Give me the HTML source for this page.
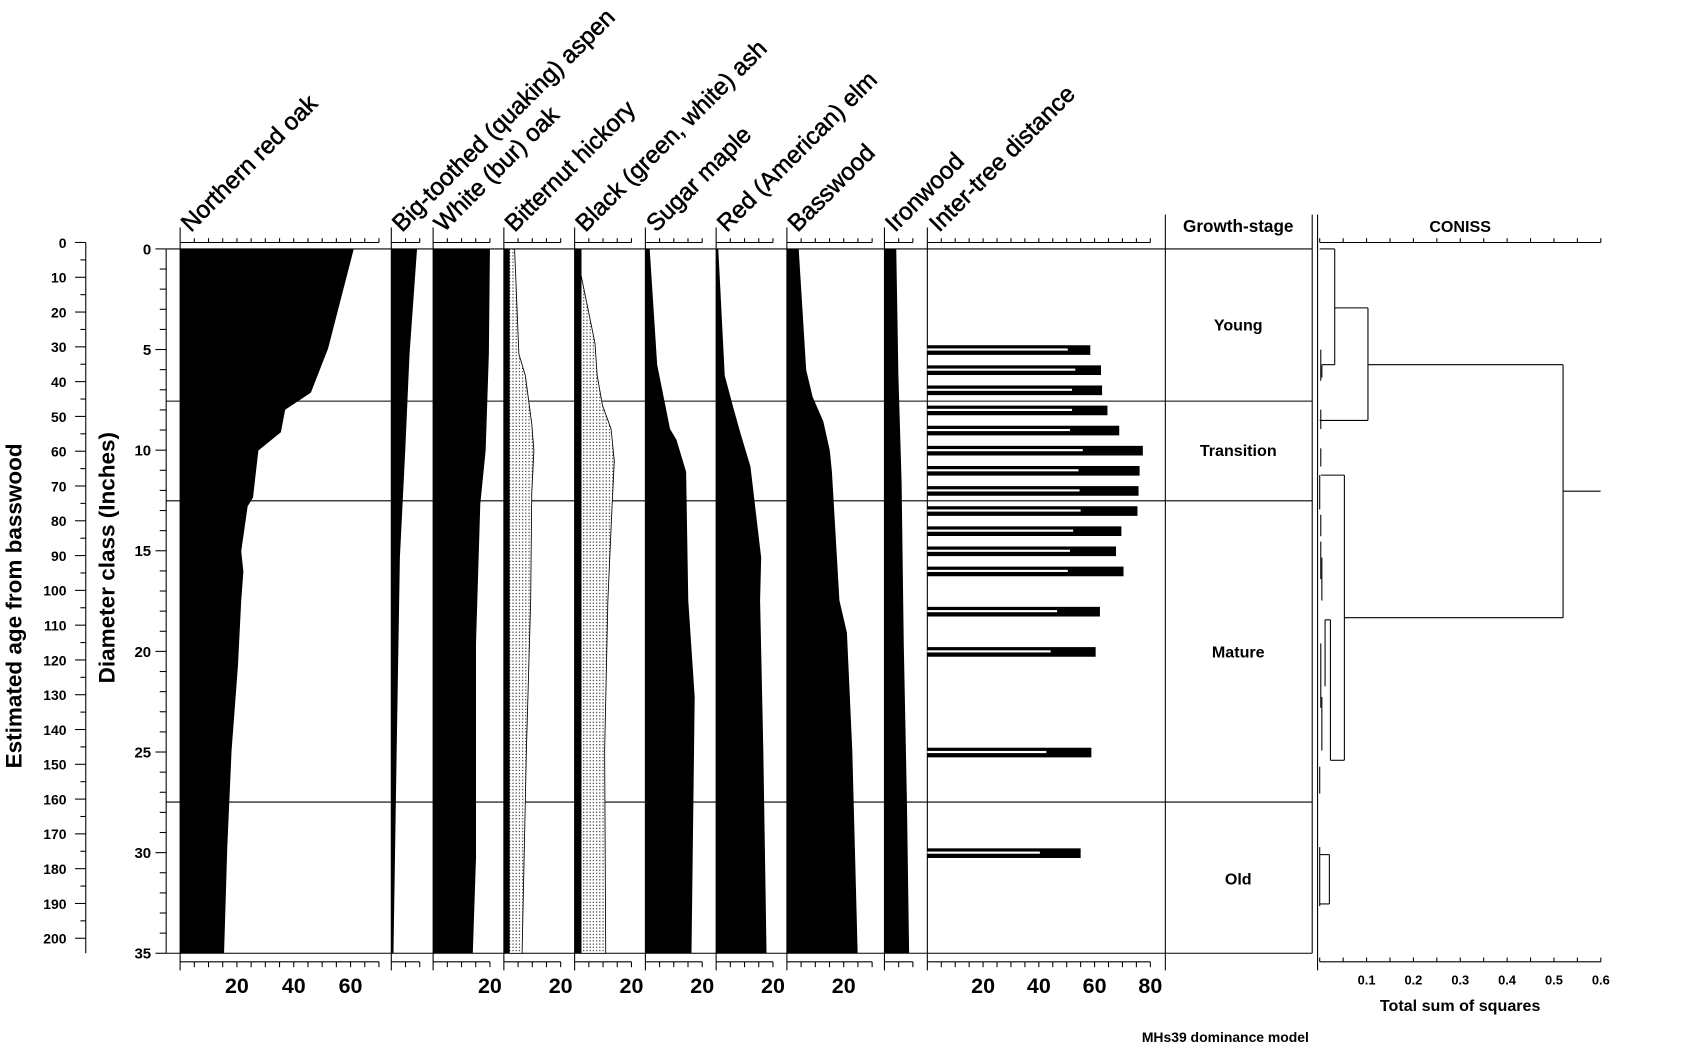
<!DOCTYPE html>
<html><head><meta charset="utf-8"><style>
html,body{margin:0;padding:0;background:#fff;}
svg{display:block;}
text{font-family:"Liberation Sans",Arial,sans-serif;fill:#000;}
.n{font-family:"Liberation Sans Narrow","Liberation Sans",sans-serif;font-weight:bold;}
.h{stroke:#000;stroke-width:0.5;}
</style></head><body>
<svg width="1681" height="1051" viewBox="0 0 1568 980" xmlns="http://www.w3.org/2000/svg">
<defs>
<pattern id="dots" width="3" height="3" patternUnits="userSpaceOnUse"><rect width="3" height="3" fill="#fff"/><rect x="1" y="1" width="1" height="1" fill="#000"/></pattern>
</defs>
<g stroke="#000" stroke-width="1" fill="none">
<line x1="80" y1="226" x2="80" y2="889"/>
</g>
<script>
const NS="http://www.w3.org/2000/svg";
const svg=document.querySelector('svg');
function el(t,a,txt){const e=document.createElementNS(NS,t);for(const k in a)e.setAttribute(k,a[k]);if(txt!==undefined)e.textContent=txt;svg.appendChild(e);return e;}
function L(x1,y1,x2,y2,w){el('line',{x1,y1,x2,y2,stroke:'#000','stroke-width':w||1});}
for(let a=0;a<=200;a+=5){const y=226+a*(649/200);const maj=a%10==0;L(maj?70:75,y,80,y);
 if(maj)el('text',{x:62,y:y+5,'text-anchor':'end','font-size':13,class:'n'},a);}
const D=d=>232+d*(657/35);
L(155,232,155,889);
for(let d=0;d<=35;d++){const y=D(d);const maj=d%5==0;L(maj?145:149,y,155,y);
 if(maj)el('text',{x:141,y:y+5,'text-anchor':'end','font-size':14,class:'n'},d);}
el('text',{transform:'translate(20,565) rotate(-90)','text-anchor':'middle','font-size':21,class:'n'},'Estimated age from basswood');
el('text',{transform:'translate(107,520) rotate(-90)','text-anchor':'middle','font-size':21,class:'n'},'Diameter class (Inches)');
L(155,232,1224,232);L(155,889,1224,889);
[374,467,748].forEach(y=>L(155,y,1224,y));
const k=2.65;
const P=[
 {n:'Northern red oak',l:168,max:70,lab:[20,40,60],pts:[[330,232],[306,325],[290,366],[266,382],[262,403],[241,420],[236,464],[231,472],[225,514],[227,533],[225,560],[222,620],[216,700],[212,790],[209,889]]},
 {n:'Big-toothed (quaking) aspen',l:365,max:10,lab:[],pts:[[389,232],[382,330],[378,420],[373,520],[370,700],[367,889]]},
 {n:'White (bur) oak',l:404,max:20,lab:[20],pts:[[457,232],[456,330],[453,420],[448,470],[444,600],[444,800],[441,889]]},
 {n:'Bitternut hickory',l:470,max:20,lab:[20],bar:5,st:[[480,232],[484,330],[490,350],[496,395],[498,420],[496,460],[495,560],[491,700],[487,889]]},
 {n:'Black (green, white) ash',l:536,max:20,lab:[20],bar:6,st:[[537,232],[555,320],[557,350],[562,378],[570,400],[573,430],[571,470],[567,560],[564,700],[565,889]]},
 {n:'Sugar maple',l:602,max:20,lab:[20],pts:[[606,232],[613,340],[625,400],[631,410],[640,440],[642,560],[648,650],[645,889]]},
 {n:'Red (American) elm',l:668,max:20,lab:[20],pts:[[670,232],[676,350],[684,380],[691,405],[700,435],[710,520],[709,560],[712,700],[715,889]]},
 {n:'Basswood',l:734,max:30,lab:[20],pts:[[745,232],[752,345],[758,370],[768,393],[774,420],[776,440],[783,560],[790,590],[795,700],[800,889]]},
 {n:'Ironwood',l:825,max:10,lab:[],pts:[[836,232],[838,350],[841,450],[843,600],[846,750],[848,889]]},
];
P.forEach(p=>{
 if(p.pts){el('polygon',{points:[[p.l,232],...p.pts,[p.l,889]].map(a=>a.join(',')).join(' '),fill:'#000'});}
 if(p.st){el('polygon',{points:[[p.l+p.bar,232],...p.st,[p.l+p.bar,889]].map(a=>a.join(',')).join(' '),fill:'url(#dots)',stroke:'#000','stroke-width':0.8});
   el('rect',{x:p.l,y:232,width:p.bar,height:657,fill:'#000'});}
 L(p.l,212,p.l,905);
 const r=p.l+p.max*k;
 L(p.l,226,r,226);
 for(let v=5;v<=p.max;v+=5){const x=p.l+v*k;L(x,222,x,226);}
 L(p.l,897,r,897);
 for(let v=5;v<=p.max;v+=5){const x=p.l+v*k;L(x,897,x,902);}
 p.lab.forEach(v=>el('text',{x:p.l+v*k,y:926,'text-anchor':'middle','font-size':20,class:'n'},v));
 el('text',{transform:`translate(${p.l+10},217) rotate(-45)`,'font-size':22.5,class:'h'},p.n);
});
const il=865,ik=2.6;
L(il,212,il,905);L(il,226,1073,226);L(il,897,1073,897);
for(let v=5;v<=80;v+=5){const x=il+v*ik;L(x,222,x,226);L(x,897,x,902);}
[20,40,60,80].forEach(v=>el('text',{x:il+v*ik,y:926,'text-anchor':'middle','font-size':20,class:'n'},v));
el('text',{transform:`translate(${il+11},217) rotate(-45)`,'font-size':22.5,class:'h'},'Inter-tree distance');
const bars=[[5,1017,996],[6,1027,1003],[7,1028,1000],[8,1033,1000],[9,1044,998],[10,1066,1010],[11,1063,1006],[12,1062,1007],[13,1061,1008],[14,1046,1001],[15,1041,998],[16,1048,996],[18,1026,986],[20,1022,980],[25,1018,976],[30,1008,970]];
bars.forEach(b=>{const y=D(b[0]);el('rect',{x:il,y:y-4,width:b[1]-il,height:9,fill:'#000'});el('rect',{x:il,y:y-1,width:b[2]-il,height:2,fill:'#fff'});});
L(1087,200,1087,905);L(1224,200,1224,889);
el('text',{x:1155,y:216,'text-anchor':'middle','font-size':16,class:'n'},'Growth-stage');
[['Young',308],['Transition',425],['Mature',613],['Old',825]].forEach(s=>el('text',{x:1155,y:s[1],'text-anchor':'middle','font-size':15,class:'n'},s[0]));
L(1229,200,1229,905);
const c0=1231,ck=437;
el('text',{x:1362,y:216,'text-anchor':'middle','font-size':15,class:'n'},'CONISS');
L(c0,226,c0+0.6*ck,226);L(c0,897,c0+0.6*ck,897);
for(let v=0;v<=12;v++){const x=c0+v*0.05*ck;L(x,222,x,226);L(x,893,x,897);}
for(let v=1;v<=6;v++)el('text',{x:c0+v*0.1*ck,y:918,'text-anchor':'middle','font-size':12,class:'n'},'0.'+v);
el('text',{x:1362,y:943,'text-anchor':'middle','font-size':15,class:'n'},'Total sum of squares');
el('text',{x:1143,y:972,'text-anchor':'middle','font-size':13,class:'n'},'MHs39 dominance model');
const segs=[
[1231,232,1245,232],[1245,232,1245,340],[1233,340,1245,340],
[1245,287,1276,287],[1276,287,1276,392],[1231,392,1276,392],
[1276,340,1458,340],[1458,340,1458,576],[1254,576,1458,576],[1458,458,1493,458],
[1254,443,1254,709],[1232,443,1254,443],[1241,709,1254,709],[1241,578,1241,709],[1236,578,1241,578],[1236,578,1236,640],
[1232,326,1232,355],[1233,340,1233,352],[1232,382,1232,400],[1232,418,1232,435],[1231,443,1231,475],[1232,480,1232,500],
[1232,505,1232,540],[1233,520,1233,560],[1232,600,1232,660],[1233,650,1233,700],[1231,715,1231,740],[1231,790,1231,845],[1231,843,1240,843],[1240,797,1240,843],[1231,797,1240,797]];
segs.forEach(s=>L(...s));
</script>
</svg>
</body></html>
